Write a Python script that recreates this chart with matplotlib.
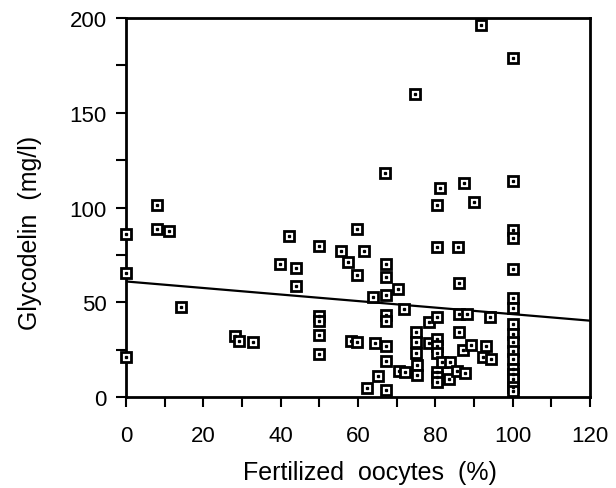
import matplotlib
matplotlib.use("Agg")
import matplotlib.pyplot as plt
import numpy as np
from matplotlib.ticker import MultipleLocator

fert_x = [0, 0, 0, 7.9, 7.9, 11.1, 14.2, 28.2, 29.3, 32.9,
          39.8, 42.2, 43.9, 43.9,
          50, 50, 50, 50, 50,
          55.7, 57.4, 59.6, 59.8, 61.6, 58.3, 59.6,
          64.3, 67.2, 67.2, 62.4, 65.2, 67.2,
          63.8, 67.2, 67.1, 67.1, 70.4, 71.8, 67.2, 67.2,
          70.5, 72.2, 66.9, 74.6,
          75.1, 75.1, 75.1, 75.2, 75.2,
          78.3, 80.3, 78.3, 80.4, 80.4, 80.4, 80.4, 80.4, 80.4,
          81.6, 83.7, 83.5, 85.6, 87.6, 87.2, 89.3,
          86.1, 86.1, 88.2, 86.1, 80.3, 85.9,
          80.3, 81.3, 87.4, 89.9, 91.9,
          94.2, 93.2, 92.3, 94.5,
          100, 100, 100, 100, 100, 100, 100, 100, 100,
          100, 100, 100, 100, 100, 100, 100, 100]
glyco_y = [85.9, 65.6, 21.3, 101.3, 88.7, 87.6, 47.6, 32, 29.7, 28.9,
           70, 84.8, 67.9, 58.4,
           79.5, 43, 40, 33, 22.7,
           77.2, 71.1, 88.7, 64.4, 76.9, 29.7, 28.9,
           28.5, 26.7, 19.2, 4.6, 10.9, 3.5,
           52.6, 53.8, 70.2, 63.5, 57, 46.4, 43.5, 40,
           14, 13, 118, 160,
           34.5, 29.2, 23.2, 17, 11.8,
           39.7, 42.3, 28.7, 30.6, 26.8, 23.2, 13.4, 10.7, 7.8,
           18.3, 18.3, 9.5, 13.9, 12.7, 25, 27.4,
           34.5, 43.8, 43.8, 60, 79, 79,
           101.3, 110.3, 112.8, 103, 196.3,
           42, 27, 21, 20,
           179, 114.2, 88.3, 83.7, 67.5, 52.4, 47, 38.5, 33.2,
           28.9, 24.4, 20, 15, 12.1, 9.5, 5.1, 3]

fit_x = [0, 120]
fit_y = [61, 40.3]

plt.rcParams['font.family'] = ['Liberation Sans', 'DejaVu Sans']

fig = plt.figure(figsize=(6.16, 4.89), dpi=100)
ax = fig.add_axes([0.2045, 0.186, 0.7535, 0.775])

ax.plot(fit_x, fit_y, color='black', lw=1.6, zorder=2)
ax.plot(fert_x, glyco_y, linestyle='none', marker='s', markersize=7,
        markerfacecolor='white', markeredgecolor='black', markeredgewidth=2,
        zorder=3, clip_on=False)
ax.plot(fert_x, glyco_y, linestyle='none', marker='s', markersize=1.4,
        color='black', zorder=4, clip_on=False)

ax.set_xlim(0, 120)
ax.set_ylim(0, 200)
ax.xaxis.set_major_locator(MultipleLocator(20))
ax.xaxis.set_minor_locator(MultipleLocator(10))
ax.yaxis.set_major_locator(MultipleLocator(50))
ax.yaxis.set_minor_locator(MultipleLocator(25))
ax.tick_params(which='both', direction='out', length=7, width=1.5)
ax.tick_params(axis='both', which='major', labelsize=16)
ax.tick_params(axis='x', which='major', pad=13)
ax.tick_params(axis='y', which='major', pad=7)
for s in ax.spines.values():
    s.set_linewidth(2)

ax.set_xlabel('Fertilized  oocytes  (%)', fontsize=18)
ax.set_ylabel('Glycodelin  (mg/l)', fontsize=18)
ax.xaxis.set_label_coords(0.526, -0.165)
ax.yaxis.set_label_coords(-0.18, 0.435)

fig.savefig('out.png', dpi=100)
